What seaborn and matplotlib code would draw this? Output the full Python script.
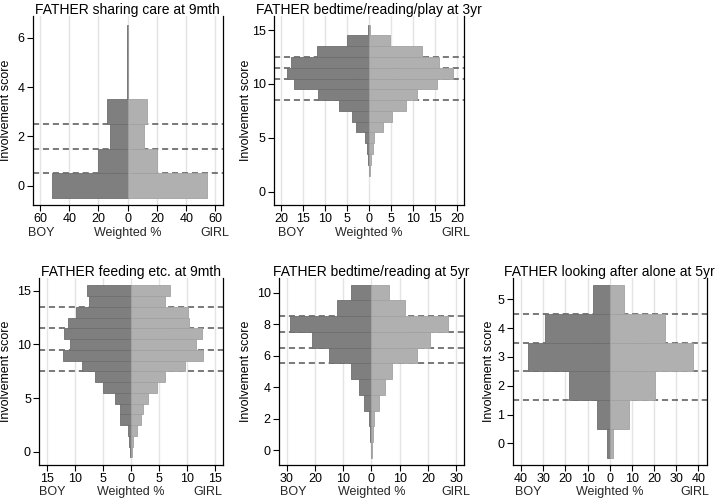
import numpy as np
import pandas as pd
import seaborn as sns
import matplotlib.pyplot as plt
from matplotlib.ticker import FuncFormatter

sns.set_theme(style='white')
plt.rcParams['font.family'] = ['Liberation Sans', 'DejaVu Sans']

# ---- data (weighted %) ----
care_9m_score = [0, 1, 2, 3, 4, 5, 6]
care_9m_boy = [52.0, 20.5, 11.9, 14.4, 0.6, 0.2, 0.2]
care_9m_girl = [54.1, 19.8, 11.2, 13.2, 0.1, 0.2, 0.2]
care_9m_cuts = [0.5, 1.5, 2.5]

play_3y_score = [2, 3, 4, 5, 6, 7, 8, 9, 10, 11, 12, 13, 14, 15]
play_3y_boy = [0.1, 0.2, 0.5, 1.0, 2.9, 3.8, 6.9, 11.7, 17.1, 18.7, 17.7, 11.8, 5.0, 0.2]
play_3y_girl = [0.2, 0.4, 0.9, 1.2, 3.2, 5.3, 8.5, 11.0, 15.5, 19.1, 15.9, 12.0, 4.7, 0.2]
play_3y_cuts = [8.5, 10.5, 11.5, 12.5]

feed_9m_score = [0, 1, 2, 3, 4, 5, 6, 7, 8, 9, 10, 11, 12, 13, 14, 15]
feed_9m_boy = [0.2, 0.4, 0.6, 1.9, 2.0, 2.9, 5.1, 6.5, 8.8, 12.2, 11.0, 12.0, 11.3, 9.9, 7.6, 7.9]
feed_9m_girl = [0.2, 0.4, 1.0, 1.7, 2.2, 3.0, 4.6, 6.1, 9.7, 12.9, 11.6, 12.7, 10.3, 10.1, 6.1, 6.9]
feed_9m_cuts = [7.5, 9.5, 11.5, 13.5]

read_5y_score = [0, 1, 2, 3, 4, 5, 6, 7, 8, 9, 10]
read_5y_boy = [0.3, 0.5, 0.7, 2.6, 4.5, 7.2, 15.1, 21.1, 28.9, 12.1, 7.4]
read_5y_girl = [0.3, 0.6, 0.8, 2.7, 4.9, 7.1, 16.2, 20.8, 27.2, 11.9, 6.1]
read_5y_cuts = [5.5, 6.5, 7.5, 8.5]

alone_5y_score = [0, 1, 2, 3, 4, 5]
alone_5y_boy = [1.3, 5.7, 18.2, 36.9, 29.4, 7.5]
alone_5y_girl = [1.6, 8.7, 20.3, 37.5, 24.9, 6.6]
alone_5y_cuts = [1.5, 2.5, 3.5, 4.5]

titles = ['FATHER sharing care at 9mth', 'FATHER bedtime/reading/play at 3yr',
          'FATHER feeding etc. at 9mth', 'FATHER bedtime/reading at 5yr',
          'FATHER looking after alone at 5yr']

BOY_COL = '#7f7f7f'
GIRL_COL = '#b0b0b0'

panels = [
    # data, cuts, axes rect, xlim, xticks, ylim, yticks, ylabel x, BOY x, GIRL x
    (care_9m_score, care_9m_boy, care_9m_girl, care_9m_cuts,
     [0.0455, 0.5908, 0.2643, 0.3772], 65, np.arange(-60, 61, 20),
     (-0.78, 6.88), [0, 2, 4, 6], -0.109, -0.025, 1.033),
    (play_3y_score, play_3y_boy, play_3y_girl, play_3y_cuts,
     [0.3811, 0.5908, 0.2643, 0.3772], 21.6, np.arange(-20, 21, 5),
     (-1.23, 16.3), [0, 5, 10, 15], -0.116, 0.023, 1.032),
    (feed_9m_score, feed_9m_boy, feed_9m_girl, feed_9m_cuts,
     [0.0547, 0.0719, 0.2551, 0.3733], 16.4, np.arange(-15, 16, 5),
     (-1.21, 16.18), [0, 5, 10, 15], -0.149, 0.0, 0.995),
    (read_5y_score, read_5y_boy, read_5y_girl, read_5y_cuts,
     [0.388, 0.0719, 0.2573, 0.3733], 32.7, np.arange(-30, 31, 10),
     (-0.95, 10.93), [0, 2, 4, 6, 8, 10], -0.146, 0.005, 1.032),
    (alone_5y_score, alone_5y_boy, alone_5y_girl, alone_5y_cuts,
     [0.7131, 0.0719, 0.2698, 0.3733], 43.8, np.arange(-40, 41, 10),
     (-0.75, 5.74), [0, 1, 2, 3, 4, 5], -0.091, 0.012, 1.013),
]

fig = plt.figure(figsize=(7.19, 5.01), dpi=100)

for i, (score, boy, girl, cuts, rect, xl, xt, yl, yt, ylx, bx, gx) in enumerate(panels):
    ax = fig.add_axes(rect)
    df = pd.DataFrame({'score': score * 2,
                       'pct': [-b for b in boy] + list(girl),
                       'sex': ['BOY'] * len(score) + ['GIRL'] * len(score)})
    ax.grid(axis='x', color='#e4e4e4', lw=1)
    ax.set_axisbelow(True)
    for c in cuts:
        ax.axhline(c, color='#555555', lw=1.1, ls=(0, (4, 2.5)), zorder=1.5)
    sns.barplot(data=df[df.sex == 'BOY'], x='pct', y='score', orient='y',
                native_scale=True, width=1, color=BOY_COL, saturation=1,
                edgecolor='#6e6e6e', linewidth=0.6, errorbar=None, zorder=3, ax=ax)
    sns.barplot(data=df[df.sex == 'GIRL'], x='pct', y='score', orient='y',
                native_scale=True, width=1, color=GIRL_COL, saturation=1,
                edgecolor='#a2a2a2', linewidth=0.6, errorbar=None, zorder=3, ax=ax)
    ax.set_xlim(-xl, xl)
    ax.set_ylim(*yl)
    ax.set_xticks(xt)
    ax.set_yticks(yt)
    ax.xaxis.set_major_formatter(FuncFormatter(lambda v, p: '%d' % abs(round(v))))
    ax.tick_params(axis='both', bottom=True, left=True, direction='out', length=4,
                   width=0.8, color='black', labelsize=9, pad=2, labelcolor='black')
    ax.grid(axis='y', visible=False)
    for s in ['left', 'bottom', 'right']:
        ax.spines[s].set_visible(True)
        ax.spines[s].set_color('black')
        ax.spines[s].set_linewidth(0.9)
    ax.spines['top'].set_visible(False)
    ax.set_xlabel('')
    ax.set_ylabel('Involvement score', fontsize=9, color='black')
    ax.yaxis.set_label_coords(ylx, 0.5)
    ax.set_title(titles[i], fontsize=10, color='black', pad=1.5)
    ax.text(bx, -0.1455, 'BOY', transform=ax.transAxes, ha='left', va='center',
            fontsize=9)
    ax.text(0.5, -0.1455, 'Weighted %', transform=ax.transAxes, ha='center',
            va='center', fontsize=9)
    ax.text(gx, -0.1455, 'GIRL', transform=ax.transAxes, ha='right', va='center',
            fontsize=9)

fig.savefig('out.png', dpi=100, facecolor='white')
